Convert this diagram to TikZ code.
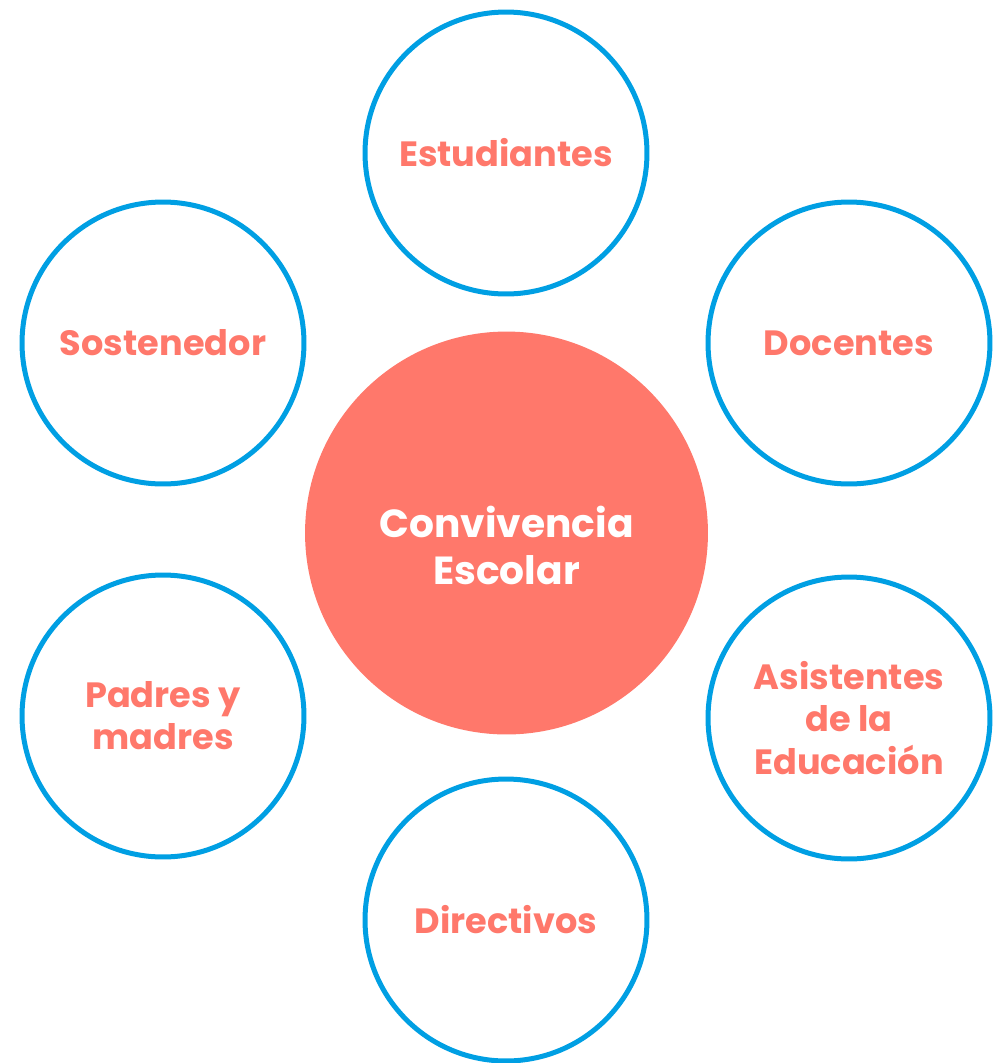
\documentclass[tikz,border=0pt]{standalone}
\usepackage{fontspec}
\setmainfont{Poppins}
\definecolor{ringblue}{HTML}{009FE3}
\definecolor{salmon}{HTML}{FF786B}

\begin{document}
\begin{tikzpicture}[x=0.02cm, y=-0.02cm,
  actor/.style={circle, draw=ringblue, line width=0.1cm, minimum size=5.64cm, inner sep=0pt,
    align=center, text=salmon, font=\fontsize{20}{24}\selectfont\bfseries},
  hub/.style={circle, fill=salmon, minimum size=8.06cm, inner sep=0pt},
  hubtext/.style={align=center, text=white, font=\fontsize{22.3}{26.7}\selectfont\bfseries}]
\useasboundingbox (0,0) rectangle (1005,1063);
\node[hub] (conv) at (506.5,533) {};
\node[hubtext] (convtext) at (506.5,545) {Convivencia\\Escolar};
\node[actor] (est) at (506,153) {Estudiantes};
\node[actor] (doc) at (849,343) {Docentes};
\node[actor] (asis) at (849,718) {Asistentes\\de la\\Educación};
\node[actor] (dir) at (506,920) {Directivos};
\node[actor] (pad) at (163,716) {Padres y\\madres};
\node[actor] (sost) at (163,343) {Sostenedor};
\end{tikzpicture}
\end{document}
